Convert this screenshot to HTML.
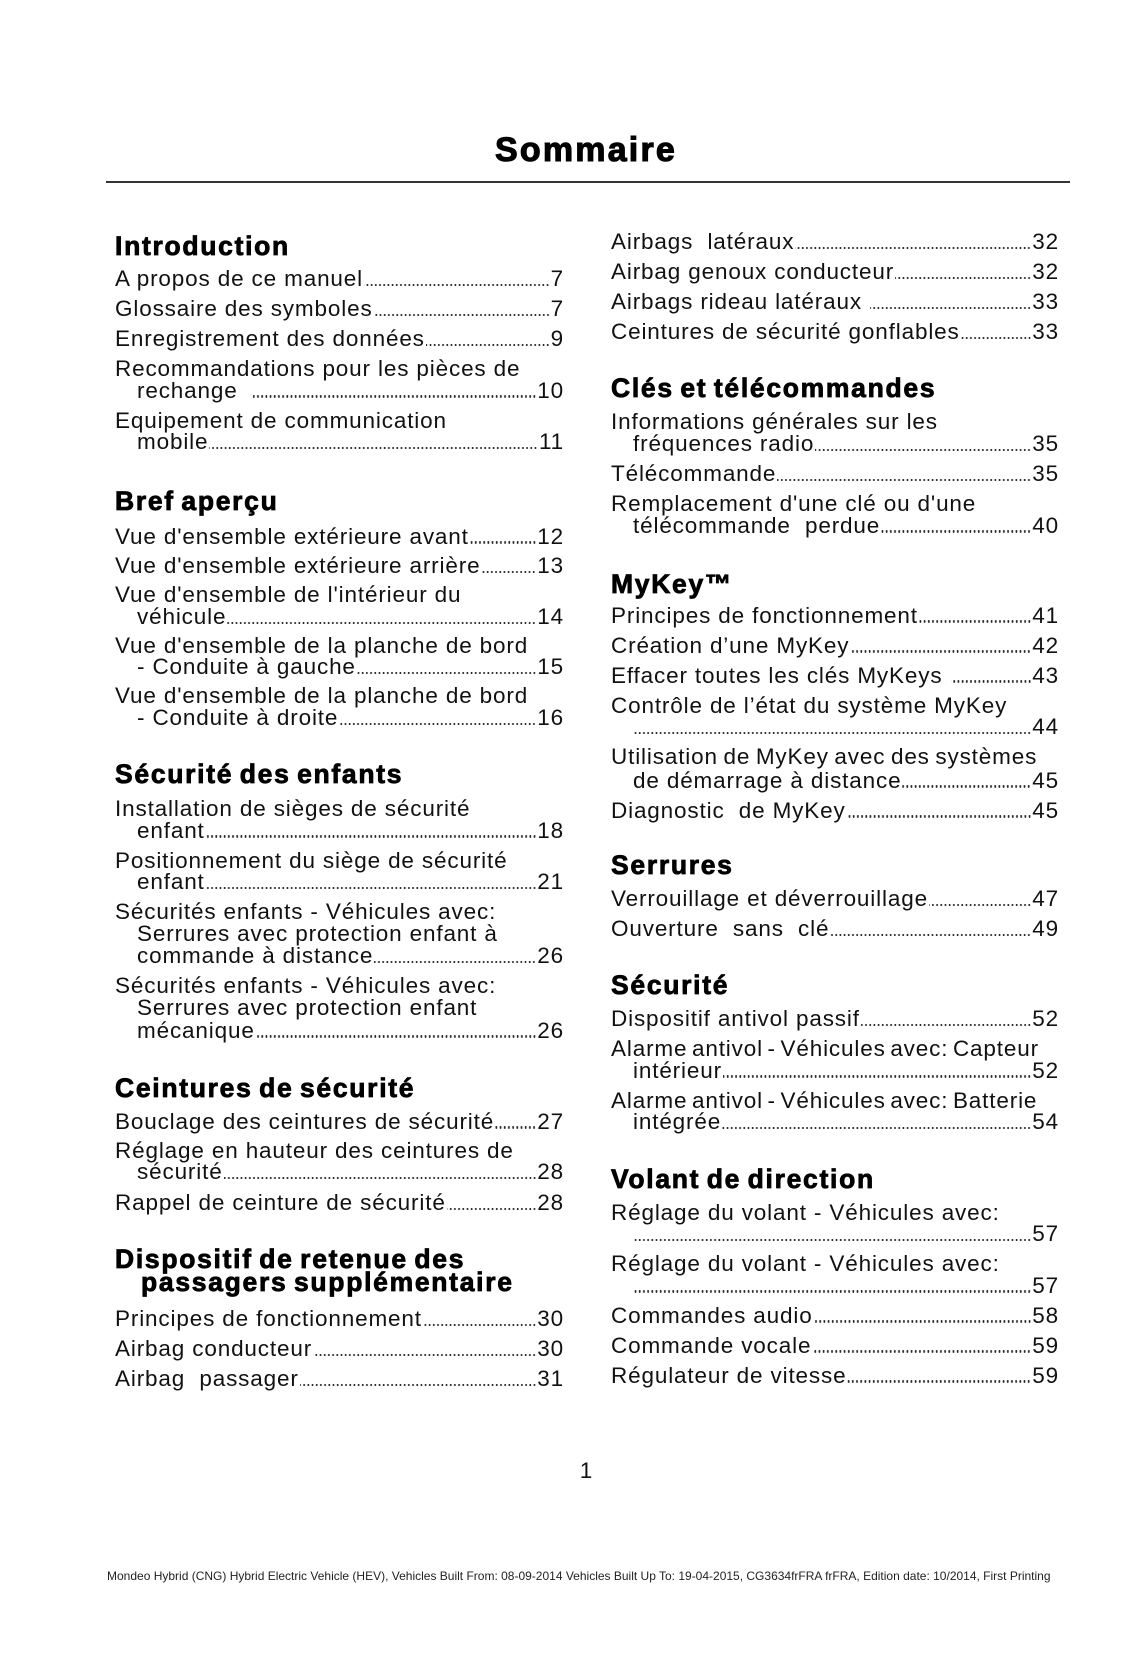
<!DOCTYPE html>
<html lang="fr">
<head>
<meta charset="utf-8">
<title>Sommaire</title>
<style>
  html,body{margin:0;padding:0;}
  body{width:1142px;height:1654px;position:relative;background:#fff;overflow:hidden;
       font-family:"Liberation Sans",Arial,sans-serif;color:#111;}
  .title{position:absolute;top:131px;left:2px;width:1168px;text-align:center;
         font-weight:bold;font-size:34px;line-height:38px;letter-spacing:2.2px;
         -webkit-text-stroke:1.1px #000;color:#000;}
  .rule{position:absolute;top:181px;left:106px;width:964px;height:2px;background:#333;}
  .h{position:absolute;font-weight:bold;font-size:26.5px;line-height:30px;letter-spacing:1.7px;
     word-spacing:-2.5px;-webkit-text-stroke:0.8px #000;white-space:nowrap;color:#000;}
  .e{position:absolute;display:flex;align-items:baseline;font-size:22.5px;line-height:26px;
     height:26px;letter-spacing:0.85px;white-space:nowrap;}
  .L{left:115px;width:449px;}
  .Li{left:137px;width:427px;}
  .R{left:611px;width:448px;}
  .Ri{left:633px;width:426px;}
  .d{flex:1 1 auto;height:2.2px;margin:0 1px 0 1px;
     background:radial-gradient(circle,#111 0,#111 0.8px,transparent 1.15px) right bottom/4.2px 2.2px repeat-x;}
  .n{flex:0 0 auto;}
  .tight{word-spacing:-2.5px;}
  .tight2{word-spacing:-1.5px;}
  .pg{position:absolute;top:1458px;left:0;width:1172px;text-align:center;font-size:22.5px;line-height:26px;}
  .foot{position:absolute;top:1569px;left:107px;font-size:12px;line-height:14px;white-space:nowrap;color:#222;}
</style>
</head>
<body>

<div class="title">Sommaire</div>
<div class="rule"></div>

<!-- LEFT COLUMN -->
<div class="h" style="left:115px;top:230.8px;">Introduction</div>
<div class="e L" style="top:265.9px;"><span>A propos de ce manuel</span><span class="d"></span><span class="n">7</span></div>
<div class="e L" style="top:295.9px;"><span>Glossaire des symboles</span><span class="d"></span><span class="n">7</span></div>
<div class="e L" style="top:325.9px;"><span>Enregistrement des données</span><span class="d"></span><span class="n">9</span></div>
<div class="e L" style="top:355.9px;"><span>Recommandations pour les pièces de</span></div>
<div class="e Li" style="top:377.5px;"><span>rechange&nbsp;&nbsp;</span><span class="d"></span><span class="n">10</span></div>
<div class="e L" style="top:407.5px;"><span>Equipement de communication</span></div>
<div class="e Li" style="top:429.2px;"><span>mobile</span><span class="d"></span><span class="n">11</span></div>

<div class="h" style="left:115px;top:485.8px;">Bref aperçu</div>
<div class="e L" style="top:523.5px;"><span>Vue d'ensemble extérieure avant</span><span class="d"></span><span class="n">12</span></div>
<div class="e L" style="top:553px;"><span>Vue d'ensemble extérieure arrière</span><span class="d"></span><span class="n">13</span></div>
<div class="e L" style="top:582.2px;"><span>Vue d'ensemble de l'intérieur du</span></div>
<div class="e Li" style="top:603.7px;"><span>véhicule</span><span class="d"></span><span class="n">14</span></div>
<div class="e L" style="top:632.7px;"><span>Vue d'ensemble de la planche de bord</span></div>
<div class="e Li" style="top:654.2px;"><span>- Conduite à gauche</span><span class="d"></span><span class="n">15</span></div>
<div class="e L" style="top:683.2px;"><span>Vue d'ensemble de la planche de bord</span></div>
<div class="e Li" style="top:705.2px;"><span>- Conduite à droite</span><span class="d"></span><span class="n">16</span></div>

<div class="h" style="left:115px;top:758.5px;">Sécurité des enfants</div>
<div class="e L" style="top:795.9px;"><span>Installation de sièges de sécurité</span></div>
<div class="e Li" style="top:817.5px;"><span>enfant</span><span class="d"></span><span class="n">18</span></div>
<div class="e L" style="top:847.5px;"><span>Positionnement du siège de sécurité</span></div>
<div class="e Li" style="top:869.2px;"><span>enfant</span><span class="d"></span><span class="n">21</span></div>
<div class="e L" style="top:899.2px;"><span>Sécurités enfants - Véhicules avec:</span></div>
<div class="e Li" style="top:920.9px;"><span>Serrures avec protection enfant à</span></div>
<div class="e Li" style="top:943.2px;"><span>commande à distance</span><span class="d"></span><span class="n">26</span></div>
<div class="e L" style="top:973.2px;"><span>Sécurités enfants - Véhicules avec:</span></div>
<div class="e Li" style="top:995.2px;"><span>Serrures avec protection enfant</span></div>
<div class="e Li" style="top:1017.5px;"><span>mécanique</span><span class="d"></span><span class="n">26</span></div>

<div class="h" style="left:115px;top:1072.5px;">Ceintures de sécurité</div>
<div class="e L" style="top:1108.5px;"><span>Bouclage des ceintures de sécurité</span><span class="d"></span><span class="n">27</span></div>
<div class="e L" style="top:1137.5px;"><span>Réglage en hauteur des ceintures de</span></div>
<div class="e Li" style="top:1159.2px;"><span>sécurité</span><span class="d"></span><span class="n">28</span></div>
<div class="e L" style="top:1189.9px;"><span>Rappel de ceinture de sécurité</span><span class="d"></span><span class="n">28</span></div>

<div class="h" style="left:115px;top:1244.1px;">Dispositif de retenue des</div>
<div class="h" style="left:141px;top:1266.8px;">passagers supplémentaire</div>
<div class="e L" style="top:1305.9px;"><span>Principes de fonctionnement</span><span class="d"></span><span class="n">30</span></div>
<div class="e L" style="top:1335.9px;"><span>Airbag conducteur</span><span class="d"></span><span class="n">30</span></div>
<div class="e L" style="top:1365.9px;"><span>Airbag&nbsp; passager</span><span class="d"></span><span class="n">31</span></div>

<!-- RIGHT COLUMN -->
<div class="e R" style="top:229.2px;"><span>Airbags&nbsp; latéraux</span><span class="d"></span><span class="n">32</span></div>
<div class="e R" style="top:259.2px;"><span>Airbag genoux conducteur</span><span class="d"></span><span class="n">32</span></div>
<div class="e R" style="top:289.2px;"><span>Airbags rideau latéraux&nbsp;</span><span class="d"></span><span class="n">33</span></div>
<div class="e R" style="top:319.2px;"><span>Ceintures de sécurité gonflables</span><span class="d"></span><span class="n">33</span></div>

<div class="h" style="left:611px;top:372.5px;">Clés et télécommandes</div>
<div class="e R" style="top:409.2px;"><span>Informations générales sur les</span></div>
<div class="e Ri" style="top:430.9px;"><span>fréquences radio</span><span class="d"></span><span class="n">35</span></div>
<div class="e R" style="top:460.9px;"><span>Télécommande</span><span class="d"></span><span class="n">35</span></div>
<div class="e R" style="top:490.9px;"><span>Remplacement d'une clé ou d'une</span></div>
<div class="e Ri" style="top:512.5px;"><span>télécommande&nbsp; perdue</span><span class="d"></span><span class="n">40</span></div>

<div class="h" style="left:611px;top:568.5px;">MyKey™</div>
<div class="e R" style="top:602.5px;"><span>Principes de fonctionnement</span><span class="d"></span><span class="n">41</span></div>
<div class="e R" style="top:632.5px;"><span>Création d’une MyKey</span><span class="d"></span><span class="n">42</span></div>
<div class="e R" style="top:662.5px;"><span>Effacer toutes les clés MyKeys&nbsp;</span><span class="d"></span><span class="n">43</span></div>
<div class="e R" style="top:692.5px;"><span>Contrôle de l’état du système MyKey</span></div>
<div class="e Ri" style="top:714.2px;"><span></span><span class="d"></span><span class="n">44</span></div>
<div class="e R tight2" style="top:744.2px;"><span>Utilisation de MyKey avec des systèmes</span></div>
<div class="e Ri" style="top:767.5px;"><span>de démarrage à distance</span><span class="d"></span><span class="n">45</span></div>
<div class="e R" style="top:797.5px;"><span>Diagnostic&nbsp; de MyKey</span><span class="d"></span><span class="n">45</span></div>

<div class="h" style="left:611px;top:850.1px;">Serrures</div>
<div class="e R" style="top:885.9px;"><span>Verrouillage et déverrouillage</span><span class="d"></span><span class="n">47</span></div>
<div class="e R" style="top:915.9px;"><span>Ouverture&nbsp; sans&nbsp; clé</span><span class="d"></span><span class="n">49</span></div>

<div class="h" style="left:611px;top:969.8px;">Sécurité</div>
<div class="e R" style="top:1005.9px;"><span>Dispositif antivol passif</span><span class="d"></span><span class="n">52</span></div>
<div class="e R tight" style="top:1035.9px;"><span>Alarme antivol - Véhicules avec: Capteur</span></div>
<div class="e Ri" style="top:1057.5px;"><span>intérieur</span><span class="d"></span><span class="n">52</span></div>
<div class="e R tight" style="top:1087.5px;"><span>Alarme antivol - Véhicules avec: Batterie</span></div>
<div class="e Ri" style="top:1109.2px;"><span>intégrée</span><span class="d"></span><span class="n">54</span></div>

<div class="h" style="left:611px;top:1163.8px;">Volant de direction</div>
<div class="e R" style="top:1200.2px;"><span>Réglage du volant - Véhicules avec:</span></div>
<div class="e Ri" style="top:1220.9px;"><span></span><span class="d"></span><span class="n">57</span></div>
<div class="e R" style="top:1250.9px;"><span>Réglage du volant - Véhicules avec:</span></div>
<div class="e Ri" style="top:1272.5px;"><span></span><span class="d"></span><span class="n">57</span></div>
<div class="e R" style="top:1302.5px;"><span>Commandes audio</span><span class="d"></span><span class="n">58</span></div>
<div class="e R" style="top:1332.5px;"><span>Commande vocale</span><span class="d"></span><span class="n">59</span></div>
<div class="e R" style="top:1362.5px;"><span>Régulateur de vitesse</span><span class="d"></span><span class="n">59</span></div>

<div class="pg">1</div>
<div class="foot">Mondeo Hybrid (CNG) Hybrid Electric Vehicle (HEV), Vehicles Built From: 08-09-2014 Vehicles Built Up To: 19-04-2015, CG3634frFRA frFRA, Edition date: 10/2014, First Printing</div>

</body>
</html>
